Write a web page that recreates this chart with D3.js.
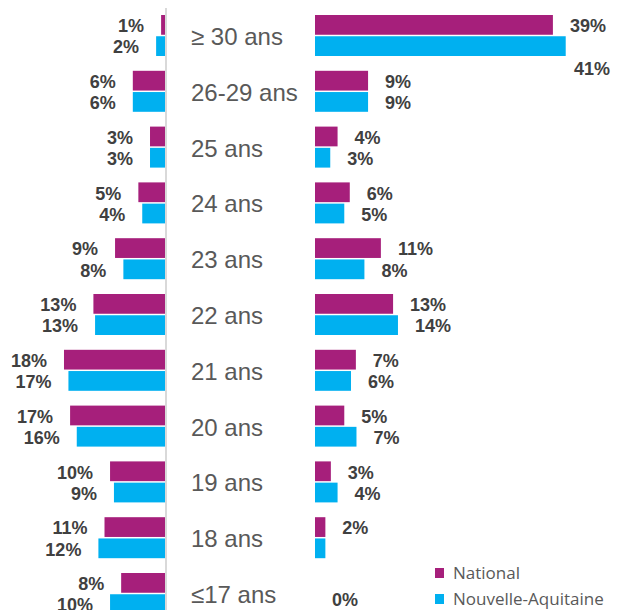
<!DOCTYPE html>
<html>
<head>
<meta charset="utf-8">
<script src="https://cdn.jsdelivr.net/npm/d3@7"></script>
<style>
  body { margin: 0; background: #fff; }
</style>
</head>
<body>
<div id="chart"></div>
<script>
// age groups, top to bottom
var categories = ["≥ 30 ans", "26-29 ans", "25 ans", "24 ans", "23 ans", "22 ans", "21 ans", "20 ans", "19 ans", "18 ans", "≤17 ans"];
var series = ["National", "Nouvelle-Aquitaine"];

// left panel (bars going left), in %
var leftNational = [0.7, 5.8, 2.7, 4.8, 9.0, 12.9, 18.2, 17.1, 9.9, 10.9, 7.9];
var leftNouvelleAquitaine = [1.6, 5.8, 2.7, 4.1, 7.5, 12.6, 17.4, 15.9, 9.2, 12.0, 9.9];

// right panel (bars going right), in %
var rightNational = [39.0, 8.7, 3.7, 5.7, 10.8, 12.8, 6.7, 4.8, 2.6, 1.7, 0];
var rightNouvelleAquitaine = [41.1, 8.7, 2.5, 4.8, 8.1, 13.6, 5.9, 6.8, 3.7, 1.7, 0];

// labels excel didn't show
var hiddenLabels = ["right|National|≤17 ans", "right|Nouvelle-Aquitaine|18 ans"];

var colors = {"National": "#a61f7b", "Nouvelle-Aquitaine": "#00b0f0"};

let svgWidth = 620;
let svgHeight = 610;

var svg = d3.select("#chart").append("svg").attr("width", svgWidth).attr("height", svgHeight);

var y = d3.scaleBand()
    .domain(categories)
    .range([7.6, 621.4]);

// two bars per group, 41px tall block centred in the band
var ySub = d3.scaleBand()
    .domain(series)
    .range([0, 41])
    .paddingInner(0.07);

var xLeft = d3.scaleLinear().domain([0, 20]).range([165, 54]);
var xRight = d3.scaleLinear().domain([0, 45]).range([315, 589.5]);

function barTop(cat, s) {
    return y(cat) + y.bandwidth() / 2 - 20.5 + ySub(s);
}

// rows for both panels
var rows = [];
categories.forEach(function(c, i) {
    rows.push({side: "left", cat: c, s: "National", v: leftNational[i]});
    rows.push({side: "left", cat: c, s: "Nouvelle-Aquitaine", v: leftNouvelleAquitaine[i]});
    rows.push({side: "right", cat: c, s: "National", v: rightNational[i]});
    rows.push({side: "right", cat: c, s: "Nouvelle-Aquitaine", v: rightNouvelleAquitaine[i]});
});

// grey separator line
svg.append("line")
    .attr("x1", 166).attr("x2", 166)
    .attr("y1", 8).attr("y2", svgHeight)
    .attr("stroke", "#d9d9d9")
    .attr("stroke-width", 2);

svg.append("g")
    .selectAll("rect")
    .data(rows.filter(d => d.v > 0))
    .enter()
    .append("rect")
    .attr("x", d => d.side == "left" ? xLeft(d.v) : xRight(0))
    .attr("width", d => d.side == "left" ? xLeft(0) - xLeft(d.v) : xRight(d.v) - xRight(0))
    .attr("y", d => barTop(d.cat, d.s))
    .attr("height", ySub.bandwidth())
    .attr("fill", d => colors[d.s]);

// value labels
svg.append("g")
    .selectAll("text")
    .data(rows.filter(d => hiddenLabels.indexOf(d.side + "|" + d.s + "|" + d.cat) < 0))
    .enter()
    .append("text")
    .attr("x", function(d) {
        if (d.side == "left") return xLeft(d.v) - 17;
        return Math.min(xRight(d.v) + 17, 574); // no room past the edge
    })
    .attr("y", function(d) {
        var cy = barTop(d.cat, d.s) + ySub.bandwidth() / 2 + 1;
        if (d.side == "right" && xRight(d.v) + 17 > 574) cy += 22; // pushed under the bar
        if (d.side == "right" && d.v == 0) cy -= 5;
        return cy;
    })
    .attr("dy", "0.35em")
    .attr("text-anchor", d => d.side == "left" ? "end" : "start")
    .attr("font-family", "Liberation Sans, Arial, sans-serif")
    .attr("font-weight", "bold")
    .attr("font-size", 18)
    .attr("fill", "#404040")
    .text(d => Math.round(d.v) + "%");

// category labels in the middle
svg.append("g")
    .selectAll("text")
    .data(categories)
    .enter()
    .append("text")
    .attr("x", 191)
    .attr("y", d => y(d) + y.bandwidth() / 2 + 1)
    .attr("dy", "0.35em")
    .attr("font-family", "Liberation Sans, Arial, sans-serif")
    .attr("font-size", 24)
    .attr("fill", "#595959")
    .text(d => d);

// legend
var legend = svg.append("g")
    .selectAll("g")
    .data(series)
    .enter()
    .append("g")
    .attr("transform", (d, i) => "translate(435," + (568 + i * 26) + ")");

legend.append("rect")
    .attr("width", 9)
    .attr("height", 10)
    .attr("fill", d => colors[d]);

legend.append("text")
    .attr("x", 18)
    .attr("y", 5)
    .attr("dy", "0.35em")
    .attr("font-family", "Open Sans, sans-serif")
    .attr("font-size", 17)
    .attr("fill", "#595959")
    .text(d => d);
</script>
</body>
</html>
